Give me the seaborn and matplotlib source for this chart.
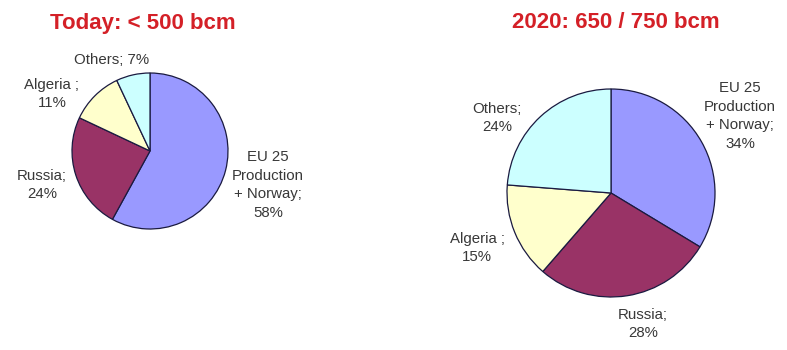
import matplotlib
matplotlib.use("Agg")
import matplotlib.pyplot as plt
import seaborn as sns

sns.set_theme(style="white")
plt.rcParams['font.family'] = ['Liberation Sans', 'DejaVu Sans']

# Data
categories = ["EU 25\nProduction\n+ Norway", "Russia", "Algeria ", "Others"]
today_values = [58, 24, 11, 7]
future_values = [34, 28, 15, 24]
titles = ["Today: < 500 bcm", "2020: 650 / 750 bcm"]
colors = ["#9999FF", "#993366", "#FFFFCC", "#CCFFFF"]

W, H = 787, 350
fig = plt.figure(figsize=(W / 100, H / 100), dpi=100)
ax = fig.add_axes([0, 0, 1, 1])

def py(y):
    return H - y

wedge_kw = dict(edgecolor="#1a1a40", linewidth=0.9)
ax.pie(today_values, colors=colors, startangle=90, counterclock=False,
       center=(150, py(151)), radius=78, wedgeprops=wedge_kw, frame=True)
ax.pie(future_values, colors=colors, startangle=90, counterclock=False,
       center=(611, py(193)), radius=104, wedgeprops=wedge_kw, frame=True)

ax.set_xlim(0, W)
ax.set_ylim(0, H)
ax.set_aspect("equal")
ax.axis("off")

txt = dict(fontsize=10.8, color="#383838", ha="center", va="center", linespacing=1.4)

def lab(i, vals, sep):
    return f"{categories[i]};{sep}{vals[i]}%"

# Left pie labels
ax.text(268, py(185), lab(0, today_values, "\n"), **txt)
ax.text(42, py(185), lab(1, today_values, "\n"), **txt)
ax.text(52, py(94), lab(2, today_values, "\n"), **txt)
ax.text(112, py(60), lab(3, today_values, " "), **txt)

# Right pie labels
ax.text(740, py(116), lab(0, future_values, "\n"), **txt)
ax.text(643, py(324), lab(1, future_values, "\n"), **txt)
ax.text(477, py(248), lab(2, future_values, "\n"), **txt)
ax.text(497, py(118), lab(3, future_values, "\n"), **txt)

title_kw = dict(fontsize=16, fontweight="bold", color="#D42027", ha="center", va="center")
ax.text(143, py(23), titles[0], **title_kw)
ax.text(616, py(23), titles[1], **title_kw)

fig.savefig("out.png", dpi=100, facecolor="white")
